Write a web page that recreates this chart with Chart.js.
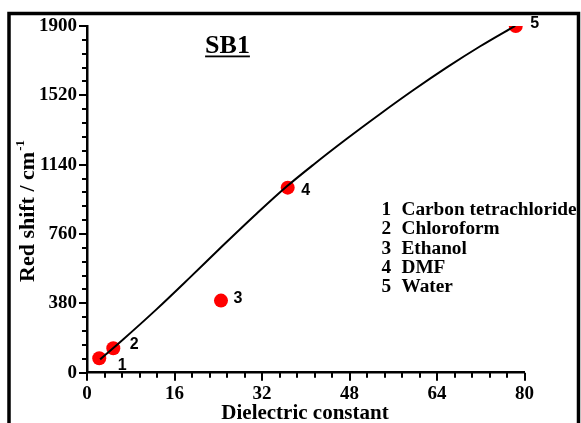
<!DOCTYPE html>
<html>
<head>
<meta charset="utf-8">
<script src="https://cdn.jsdelivr.net/npm/chart.js@4/dist/chart.umd.min.js"></script>
<style>
  html, body { margin: 0; padding: 0; background: #fff; }
  canvas { display: block; }
</style>
</head>
<body>
<canvas id="c" width="581" height="423"></canvas>
<script>
// Red shift of SB1 in five solvents against their dielectric constant
const solventNumbers = ['1', '2', '3', '4', '5'];
const solventNames = ['Carbon tetrachloride', 'Chloroform', 'Ethanol', 'DMF', 'Water'];
const dielectricConstant = [2.24, 4.81, 24.5, 36.7, 78.4];
const redShift = [79, 134, 395, 1014, 1900];

// Fitted trend curve, sampled along its length
const fitX = [2.4, 6.6, 12.7, 18.8, 24.9, 31.0, 36.5, 41.4, 47.5, 53.6, 59.7, 65.8, 71.9, 78.3];
const fitY = [73, 182, 347, 521, 698, 871, 1020, 1140, 1282, 1418, 1549, 1673, 1789, 1901];

// Axis tick labels
const xTickValues = [0, 16, 32, 48, 64, 80];
const yTickValues = [0, 380, 760, 1140, 1520, 1900];
const xMinorStep = 3.2;
const yMinorStep = 76;

const SERIF = '"Liberation Serif", "Times New Roman", serif';
const SANS = '"Liberation Sans", Arial, sans-serif';

// White page with a heavy frame around the plot
const framePlugin = {
  id: 'frame',
  beforeDraw(chart) {
    const ctx = chart.ctx;
    ctx.save();
    ctx.fillStyle = '#fff';
    ctx.fillRect(0, 0, chart.width, chart.height);
    ctx.restore();
  },
  afterDraw(chart) {
    const ctx = chart.ctx;
    ctx.save();
    ctx.strokeStyle = '#000';
    ctx.lineWidth = 3.5;
    ctx.beginPath();
    ctx.moveTo(9, chart.height + 2);
    ctx.lineTo(9, 13.5);
    ctx.lineTo(578.5, 13.5);
    ctx.lineTo(578.5, chart.height + 2);
    ctx.stroke();
    ctx.restore();
  }
};

// Outward major and minor tick marks on both axes
const tickMarksPlugin = {
  id: 'tickMarks',
  afterDraw(chart) {
    const ctx = chart.ctx;
    const xs = chart.scales.x, ys = chart.scales.y;
    const area = chart.chartArea;
    ctx.save();
    ctx.strokeStyle = '#000';
    ctx.lineWidth = 2;
    const xCount = Math.round((xs.max - xs.min) / xMinorStep);
    for (let i = 0; i <= xCount; i++) {
      const px = Math.round(xs.getPixelForValue(xs.min + i * xMinorStep));
      const len = i % 5 === 0 ? 8 : 5;
      ctx.beginPath();
      ctx.moveTo(px, area.bottom);
      ctx.lineTo(px, area.bottom + len);
      ctx.stroke();
    }
    const yCount = Math.round((ys.max - ys.min) / yMinorStep);
    for (let i = 0; i <= yCount; i++) {
      const py = Math.round(ys.getPixelForValue(ys.min + i * yMinorStep));
      const len = i % 5 === 0 ? 8 : 5;
      ctx.beginPath();
      ctx.moveTo(area.left, py);
      ctx.lineTo(area.left - len, py);
      ctx.stroke();
    }
    ctx.restore();
  }
};

// Heading, solvent key, point numbers and axis titles
const textPlugin = {
  id: 'texts',
  afterDraw(chart) {
    const ctx = chart.ctx;
    ctx.save();
    ctx.fillStyle = '#000';

    // Heading
    ctx.font = 'bold 26px ' + SERIF;
    ctx.textAlign = 'center';
    ctx.textBaseline = 'alphabetic';
    ctx.fillText('SB1', 227.5, 53);
    const hw = ctx.measureText('SB1').width;
    ctx.fillRect(227.5 - hw / 2, 55.5, hw, 1.8);

    // Solvent key
    ctx.font = 'bold 19.3px ' + SERIF;
    ctx.textAlign = 'left';
    solventNames.forEach((name, i) => {
      const y = 215 + i * 19.25;
      ctx.fillText(solventNumbers[i], 381.5, y);
      ctx.fillText(name, 401.5, y);
    });

    // Numbers beside each point
    const meta = chart.getDatasetMeta(1);
    const offsets = [[23, 7], [21, -4], [17, -2], [18, 3], [19, -2]];
    ctx.font = 'bold 16px ' + SANS;
    ctx.textAlign = 'center';
    ctx.textBaseline = 'middle';
    meta.data.forEach((pt, i) => {
      ctx.fillText(solventNumbers[i], pt.x + offsets[i][0], pt.y + offsets[i][1]);
    });

    // X axis title
    ctx.font = 'bold 21px ' + SERIF;
    ctx.textAlign = 'center';
    ctx.textBaseline = 'alphabetic';
    ctx.fillText('Dielectric constant', 305, 419);

    // Y axis title with superscript unit
    ctx.translate(34, 282);
    ctx.rotate(-Math.PI / 2);
    ctx.textAlign = 'left';
    ctx.font = 'bold 22px ' + SERIF;
    const main = 'Red shift / cm';
    ctx.fillText(main, 0, 0);
    const mw = ctx.measureText(main).width;
    ctx.font = 'bold 13px ' + SERIF;
    ctx.fillText('-1', mw + 1, -10);
    ctx.restore();
  }
};

new Chart(document.getElementById('c'), {
  type: 'scatter',
  data: {
    datasets: [
      {
        type: 'line',
        data: fitX.map((x, i) => ({ x, y: fitY[i] })),
        borderColor: '#000',
        borderWidth: 2,
        pointRadius: 0,
        fill: false,
        cubicInterpolationMode: 'monotone',
        order: 0
      },
      {
        type: 'scatter',
        data: dielectricConstant.map((x, i) => ({ x, y: redShift[i] })),
        backgroundColor: '#ff0000',
        borderWidth: 0,
        pointRadius: 7,
        order: 1
      }
    ]
  },
  options: {
    responsive: false,
    animation: false,
    events: [],
    layout: { padding: { left: 0, top: 26, right: 56.5, bottom: 0 } },
    plugins: {
      legend: { display: false },
      tooltip: { enabled: false },
      title: { display: false }
    },
    scales: {
      x: {
        type: 'linear',
        min: 0,
        max: 80,
        afterBuildTicks: s => { s.ticks = xTickValues.map(v => ({ value: v })); },
        afterFit: s => { s.height = 50.3; },
        grid: { display: false, drawTicks: false },
        border: { display: true, color: '#000', width: 2.5 },
        ticks: {
          color: '#000',
          padding: 10,
          maxRotation: 0,
          callback: v => String(v),
          font: { family: SERIF, size: 19, weight: 'bold' }
        }
      },
      y: {
        type: 'linear',
        min: 0,
        max: 1900,
        afterBuildTicks: s => { s.ticks = yTickValues.map(v => ({ value: v })); },
        afterFit: s => { s.width = 87; },
        grid: { display: false, drawTicks: false },
        border: { display: true, color: '#000', width: 2.5 },
        ticks: {
          color: '#000',
          padding: 10,
          callback: v => String(v),
          font: { family: SERIF, size: 19, weight: 'bold' }
        }
      }
    }
  },
  plugins: [framePlugin, tickMarksPlugin, textPlugin]
});
</script>
</body>
</html>
